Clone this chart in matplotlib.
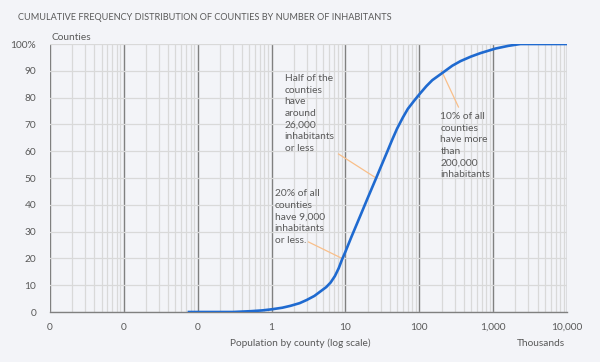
import matplotlib
matplotlib.use("Agg")
import matplotlib.pyplot as plt
from matplotlib.ticker import FixedLocator, LogLocator, NullFormatter

# Data (population in thousands, cumulative % of counties)
population_k = [0.073, 0.3, 0.52, 0.75, 1.0, 1.4, 1.8, 2.4, 3.0, 3.8, 4.6, 5.5, 6.3, 7.2,
                8.1, 9.0, 10, 12, 16, 20, 26, 30, 36.8, 43, 50, 60, 70, 85, 100, 125,
                150, 215, 280, 361, 500, 674, 1075, 1600, 2340, 10000]
cumulative_pct = [0, 0, 0.3, 0.6, 1.0, 1.6, 2.3, 3.3, 4.5, 6.0, 7.7, 9.3, 11.0, 13.4,
                  16.3, 19.6, 22.5, 27.9, 36.1, 42.5, 49.9, 54.0, 59.8, 64.3, 68.4, 72.6,
                  75.8, 78.8, 81.2, 84.3, 86.5, 89.6, 91.9, 93.6, 95.3, 96.6, 98.3,
                  99.3, 100, 100]

x_ticks = [0.001, 0.01, 0.1, 1, 10, 100, 1000, 10000]
x_tick_labels = ["0", "0", "0", "1", "10", "100", "1,000", "10,000"]
y_ticks = [0, 10, 20, 30, 40, 50, 60, 70, 80, 90, 100]
y_tick_labels = ["0", "10", "20", "30", "40", "50", "60", "70", "80", "90", "100%"]

title = "CUMULATIVE FREQUENCY DISTRIBUTION OF COUNTIES BY NUMBER OF INHABITANTS"
annotations = [
    ("Half of the\ncounties\nhave\naround\n26,000\ninhabitants\nor less", 26, 50),
    ("20% of all\ncounties\nhave 9,000\ninhabitants\nor less.", 9, 20),
    ("10% of all\ncounties\nhave more\nthan\n200,000\ninhabitants", 200, 90),
]

BG = "#f3f4f8"
TXT = "#595959"
plt.rcParams['font.family'] = ['Lato', 'DejaVu Sans']

fig = plt.figure(figsize=(6.0, 3.62), dpi=100, facecolor=BG)
ax = fig.add_axes([50/600, 1-312/362, 517/600, 268/362], facecolor=BG)

ax.set_xscale('log')
ax.set_xlim(0.001, 10000)
ax.set_ylim(0, 100)

ax.plot(population_k, cumulative_pct, color="#1f6ad0", lw=1.9, solid_capstyle='butt', zorder=5)

ax.xaxis.set_major_locator(FixedLocator(x_ticks))
ax.set_xticklabels(x_tick_labels)
ax.xaxis.set_minor_locator(LogLocator(base=10, subs=range(2, 10)))
ax.xaxis.set_minor_formatter(NullFormatter())
ax.set_yticks(y_ticks)
ax.set_yticklabels(y_tick_labels)

ax.grid(which='major', axis='x', color='#808080', lw=1.0, zorder=2)
ax.grid(which='minor', axis='x', color='#d9d9d9', lw=0.9, zorder=1)
ax.grid(which='major', axis='y', color='#d9d9d9', lw=0.9, zorder=1)
ax.set_axisbelow(True)

for s in ['top', 'right', 'left']:
    ax.spines[s].set_visible(False)
ax.spines['bottom'].set_color('#808080')
ax.spines['bottom'].set_linewidth(1.0)

ax.tick_params(axis='both', which='both', length=0, labelsize=7.3, labelcolor=TXT)
ax.tick_params(axis='x', pad=8)
ax.tick_params(axis='y', pad=10)

fig.text(18/600, 1-17/362, title, fontsize=6.6, color=TXT, va='center', ha='left')
fig.text(51/600, 1-38/362, "Counties", fontsize=7.3, color=TXT, va='center', ha='left')
fig.text(300/600, 1-343/362, "Population by county (log scale)", fontsize=7.3, color=TXT,
         va='center', ha='center')
fig.text(565/600, 1-343/362, "Thousands", fontsize=7.3, color=TXT, va='center', ha='right')

# annotation text positions (axes data coords) and leader line starts
text_pos = [(10**((284-271)/73.9), (312-74)/2.68),
            (10**((274-271)/73.9), (312-189)/2.68),
            (10**((440-271)/73.9), (312-112)/2.68)]
line_start = [(10**((338-271)/73.9), (312-154)/2.68),
              (10**((308-271)/73.9), (312-242)/2.68),
              (10**((458-271)/73.9), (312-107)/2.68)]
for (txt, xv, yv), (tx, ty), (lx, ly) in zip(annotations, text_pos, line_start):
    ax.text(tx, ty, txt, fontsize=7.4, color=TXT, va='top', ha='left', linespacing=1.38, zorder=6)
    ax.plot([lx, xv], [ly, yv], color="#f9bf8a", lw=0.9, zorder=4)

fig.savefig("out.png", dpi=100, facecolor=BG)
